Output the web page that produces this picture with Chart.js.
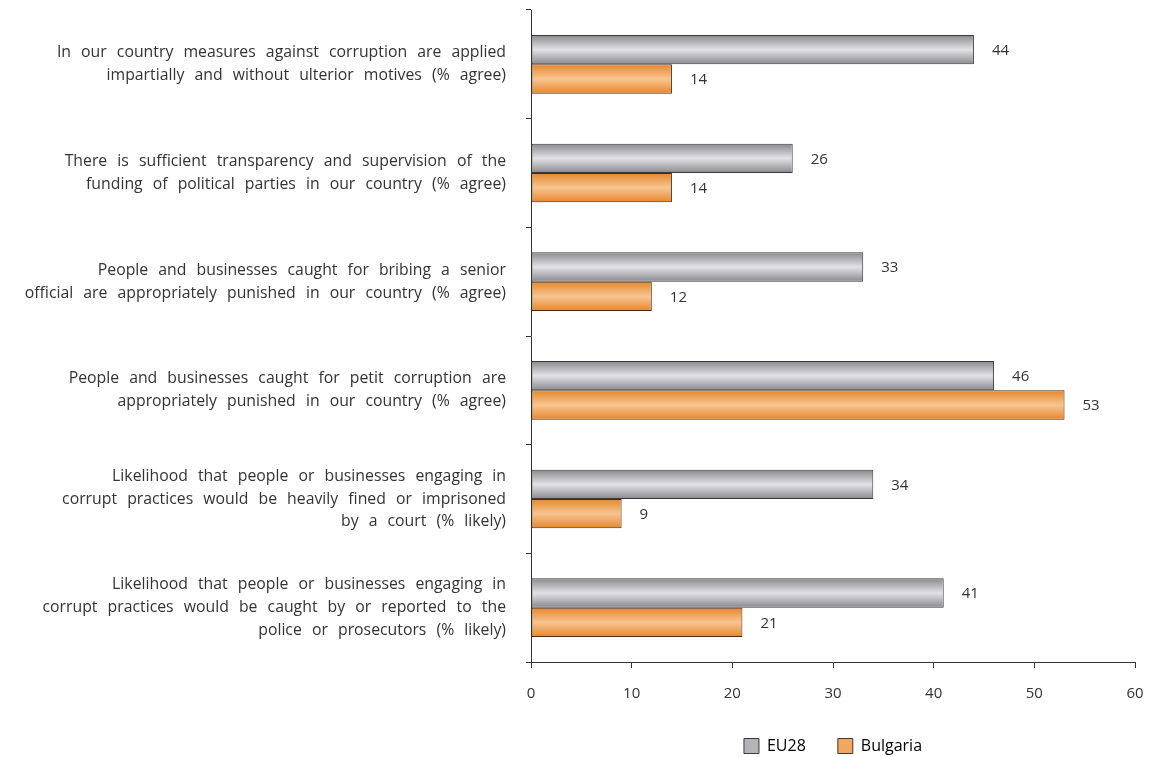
<!DOCTYPE html>
<html>
<head>
<meta charset="utf-8">
<script src="https://cdn.jsdelivr.net/npm/chart.js@4.4.0/dist/chart.umd.min.js"></script>
<style>
  html, body { margin: 0; padding: 0; background: #fff; }
  #wrap { width: 1149px; height: 757px; }
</style>
</head>
<body>
<div id="wrap"><canvas id="chart" width="1149" height="757"></canvas></div>
<script>
// Category labels (multi-line, as in the source figure)
const categories = [
    ["In our country measures against corruption are applied", "impartially and without ulterior motives (% agree)"],
    ["There is sufficient transparency and supervision of the", "funding of political parties in our country (% agree)"],
    ["People and businesses caught for bribing a senior", "official are appropriately punished in our country (% agree)"],
    ["People and businesses caught for petit corruption are", "appropriately punished in our country (% agree)"],
    ["Likelihood that people or businesses engaging in", "corrupt practices would be heavily fined or imprisoned", "by a court (% likely)"],
    ["Likelihood that people or businesses engaging in", "corrupt practices would be caught by or reported to the", "police or prosecutors (% likely)"]
];
const eu28 = [44, 26, 33, 46, 34, 41];
const bulgaria = [14, 14, 12, 53, 9, 21];
const seriesNames = ["EU28", "Bulgaria"];

const FONT = "'Open Sans', sans-serif";
const TEXT = "#333";

// vertical gradient across the thickness of each bar
function barGradient(stops, flat) {
    return function (ctx) {
        const el = ctx.element;
        if (!el || el.y == null || !el.height) return flat;
        const c = ctx.chart.ctx;
        const h = el.height;
        const g = c.createLinearGradient(0, el.y - h / 2, 0, el.y + h / 2);
        g.addColorStop(0, stops[0]);
        g.addColorStop(0.5, stops[1]);
        g.addColorStop(1, stops[0]);
        return g;
    };
}

// the source typesetting has wide gaps between words
const wordGap = {
    id: 'wordGap',
    beforeDraw(chart) { chart.ctx.wordSpacing = '6px'; }
};

const valueLabels = {
    id: 'valueLabels',
    afterDatasetsDraw(chart) {
        const c = chart.ctx;
        c.save();
        c.font = "15px " + FONT;
        c.fillStyle = TEXT;
        c.textAlign = 'left';
        c.textBaseline = 'middle';
        chart.data.datasets.forEach((ds, i) => {
            chart.getDatasetMeta(i).data.forEach((bar, j) => {
                c.fillText(String(ds.data[j]), bar.x + 18, bar.y + 1);
            });
        });
        c.restore();
    }
};

const chart = new Chart(document.getElementById('chart'), {
    type: 'bar',
    data: {
        labels: categories,
        datasets: [
            {
                label: seriesNames[0],
                data: eu28,
                backgroundColor: barGradient(["#88888e", "#e2e2e6"], "#b8b8bc"),
                borderColor: "#3a3a3a",
                borderWidth: 1,
                borderSkipped: false
            },
            {
                label: seriesNames[1],
                data: bulgaria,
                backgroundColor: barGradient(["#e6862c", "#f7c591"], "#f0a35a"),
                borderColor: "#4a2a10",
                borderWidth: 1,
                borderSkipped: false
            }
        ]
    },
    options: {
        indexAxis: 'y',
        responsive: false,
        animation: false,
        layout: { padding: { top: 10, right: 14, bottom: -7, left: 0 } },
        datasets: {
            bar: { categoryPercentage: 0.54, barPercentage: 1.0 }
        },
        plugins: {
            legend: {
                position: 'bottom',
                fullSize: false,
                labels: {
                    font: { family: FONT, size: 16 },
                    color: TEXT,
                    boxWidth: 15,
                    boxHeight: 15,
                    padding: 32,
                    generateLabels(chart) {
                        const fills = ["#b4b4b8", "#f2a65e"];
                        return chart.data.datasets.map((ds, i) => ({
                            text: ds.label,
                            fillStyle: fills[i],
                            strokeStyle: "#3a3a3a",
                            lineWidth: 1,
                            datasetIndex: i
                        }));
                    }
                }
            },
            tooltip: { enabled: false }
        },
        scales: {
            x: {
                min: 0,
                max: 60,
                ticks: {
                    stepSize: 10,
                    color: TEXT,
                    font: { family: FONT, size: 15 },
                    padding: 17
                },
                grid: { drawOnChartArea: false, tickLength: 6, color: "#333" },
                border: { color: "#333", width: 1 },
                afterFit(scale) {
                    scale.height = 44;
                    scale.paddingLeft = 0;
                    scale.paddingRight = 0;
                }
            },
            y: {
                offset: true,
                ticks: {
                    color: TEXT,
                    font: { family: FONT, size: 15.8, lineHeight: 1.45 },
                    padding: 20,
                    autoSkip: false
                },
                grid: { drawOnChartArea: false, offset: true, tickLength: 5, color: "#333" },
                border: { color: "#333", width: 1 },
                afterFit(scale) {
                    scale.width = 531;
                    scale.paddingTop = 0;
                    scale.paddingBottom = 0;
                }
            }
        }
    },
    plugins: [valueLabels, wordGap]
});
// second pass so gradients can use the laid-out bar positions
chart.update();
</script>
</body>
</html>
